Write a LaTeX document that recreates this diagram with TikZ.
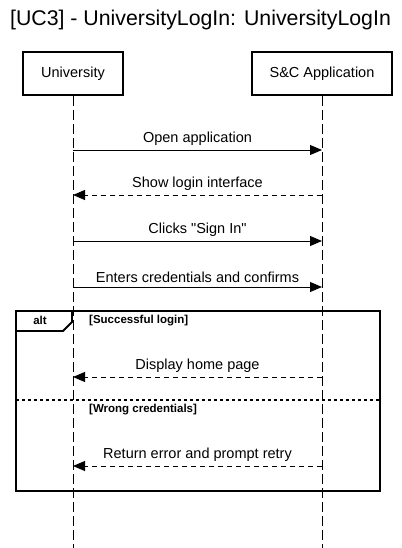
\documentclass[tikz,border=0pt]{standalone}
\usepackage{fontspec}
\setmainfont{Liberation Sans}[Ligatures=TeXOff]
\usetikzlibrary{arrows.meta}

\begin{document}
\begin{tikzpicture}[x=1pt, y=-1pt, font=\fontsize{14.5}{16}\selectfont,
	actor/.style={draw, line width=1.8pt, minimum width=100pt, minimum height=43pt, inner sep=0pt},
	life/.style={line width=0.9pt, dash pattern=on 10pt off 4pt},
	msg/.style={line width=0.9pt, -{Triangle[length=12pt, width=10pt]}},
	reply/.style={msg, dash pattern=on 5pt off 4pt},
	guard/.style={font=\bfseries\fontsize{11.5}{13}\selectfont, anchor=west, inner sep=0pt}]
\useasboundingbox (0,0) rectangle (401,548);

\node at (200.5,20) (title) {\fontsize{21.3}{24}\selectfont [UC3] - UniversityLogIn: UniversityLogIn};
\node[actor] at (73,73.5) (uni) {University};
\node[actor, minimum width=140pt] at (322,73.5) (app) {S\&C Application};

% lifelines
\coordinate (uniend) at (73,548);
\coordinate (append) at (322,548);
\draw[life] (uni.south) -- (uniend);
\draw[life] (app.south) -- (append);

\foreach \y in {150,195,241,287,377,466}{
	\coordinate (u\y) at (73,\y);
	\coordinate (a\y) at (322,\y);}

% messages
\draw[msg] (u150) -- node[above=1pt] {Open application} (a150);
\draw[reply] (a195) -- node[above=1pt] {Show login interface} (u195);
\draw[msg] (u241) -- node[above=1pt] {Clicks "Sign In"} (a241);
\draw[msg] (u287) -- node[above=1pt] {Enters credentials and confirms} (a287);

% alt fragment
\draw[line width=1.8pt] (16,311) rectangle (380,491);
\draw[line width=1.8pt] (16,331) -- (63,331) -- (72,322) -- (72,311);
\node[font=\bfseries\fontsize{11.5}{13}\selectfont] at (40,320.5) (alt) {alt};
\node[guard] at (89,320.5) (ok) {[Successful login]};
\draw[line width=1.8pt, dash pattern=on 3pt off 3pt] (16,400) -- (380,400);
\node[guard] at (89,410) (bad) {[Wrong credentials]};

\draw[reply] (a377) -- node[above=1pt] {Display home page} (u377);
\draw[reply] (a466) -- node[above=1pt] {Return error and prompt retry} (u466);

\end{tikzpicture}
\end{document}
